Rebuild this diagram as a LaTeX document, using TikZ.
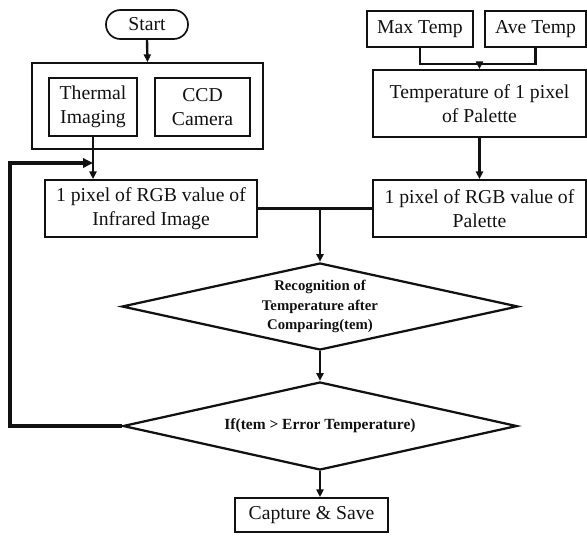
\documentclass[tikz,border=0pt]{standalone}
\usepackage{fontspec}
\setmainfont{Liberation Serif}
\usetikzlibrary{arrows.meta,positioning,calc,shapes.geometric}
\definecolor{fcink}{HTML}{111111}
\tikzset{
  fc/.style={font=\fontsize{14}{17}\selectfont, text=fcink},
  fcbox/.style={draw=fcink, rectangle, align=center, inner sep=2pt, line width=1.2pt},
  fcstart/.style={fcbox, rounded corners=0.36cm},
  fcdiam/.style={draw=fcink, diamond, aspect=4.5, inner sep=1pt, align=center,
    line width=1.6pt, font=\bfseries\fontsize{10.5}{14}\selectfont},
  fcarr/.style={-{Triangle[length=5.5pt,width=5pt]}, line width=1.7pt, draw=fcink},
  fcline/.style={line width=1.7pt, draw=fcink},
  fcloop/.style={-{Triangle[length=7pt,width=6.5pt]}, line width=2.6pt, draw=fcink},
}

\begin{document}
\begin{tikzpicture}[fc, x=0.025cm, y=-0.025cm]
  \useasboundingbox (0,0) rectangle (587,535);
  % left column: image acquisition
  \node[fcstart, minimum width=2.05cm, minimum height=0.725cm] (start) at (147,24.5) {Start};
  \node[fcbox, minimum width=5.775cm, minimum height=2.15cm] (acq) at (147.5,106) {};
  \node[fcbox, minimum width=2.2cm, minimum height=1.45cm] (thermal) at (93,107) {Thermal\\Imaging};
  \node[fcbox, minimum width=2.375cm, minimum height=1.45cm] (ccd) at (202.5,107) {CCD\\Camera};
  \node[fcbox, minimum width=5.3cm, minimum height=1.425cm] (irimg) at (151,208.5)
    {1 pixel of RGB value of\\Infrared Image};
  % right column: palette
  \node[fcbox, minimum width=2.65cm, minimum height=0.9cm] (maxt) at (420,29) {Max Temp};
  \node[fcbox, minimum width=2.525cm, minimum height=0.9cm] (avet) at (535.5,29) {Ave Temp};
  \node[fcbox, minimum width=5.325cm, minimum height=1.675cm] (temppal) at (479.5,103.5)
    {Temperature of 1 pixel\\of Palette};
  \node[fcbox, minimum width=5.325cm, minimum height=1.425cm] (palrgb) at (479.5,208.5)
    {1 pixel of RGB value of\\Palette};
  % comparison
  \node[fcdiam, minimum width=9.9cm, minimum height=2.175cm] (recog) at (320,306.5)
    {Recognition of\\Temperature after\\Comparing(tem)};
  \node[fcdiam, font=\bfseries\fontsize{11}{13}\selectfont, minimum width=9.85cm,
    minimum height=2.2cm] (check) at (320,426) {If(tem > Error Temperature)};
  \node[fcbox, minimum width=3.825cm, minimum height=0.85cm] (save) at (311.5,515) {Capture \& Save};

  \coordinate (tj) at (479.5,64);
  \coordinate (jn) at (recog.north |- irimg.east);
  \coordinate (fbl) at (10,163);

  \draw[fcarr] (start.south) -- (acq.north);
  \draw[fcarr] (thermal.south) -- (thermal.south |- irimg.north);
  \draw[fcline] (maxt.south) |- (tj) -| (avet.south);
  \draw[fcarr] (tj) -- (temppal.north);
  \draw[fcarr] (temppal.south) -- (palrgb.north);
  \draw[fcline] (irimg.east) -- (palrgb.west);
  \draw[fcarr] (jn) -- (recog.north);
  \draw[fcarr] (recog.south) -- (check.north);
  \draw[fcarr] (check.south) -- (check.south |- save.north);
  \draw[fcloop] (check.west) -| (fbl) -- (fbl -| thermal.south);
\end{tikzpicture}
\end{document}
